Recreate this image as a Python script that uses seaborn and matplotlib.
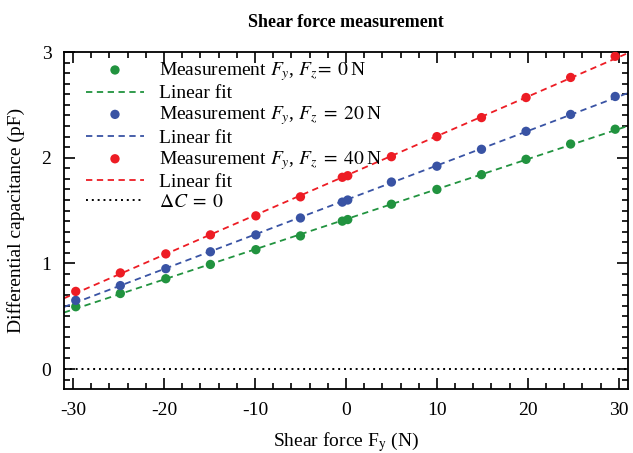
import numpy as np
import pandas as pd
import seaborn as sns
import matplotlib.pyplot as plt
from matplotlib.ticker import MultipleLocator

# Data
force = [-29.7, -24.8, -19.8, -14.9, -9.9, -5.0, -0.4, 0.2, 5.0, 10.0, 14.9, 19.8, 24.7, 29.6]
cap_fz0 = [0.59, 0.715, 0.855, 0.99, 1.13, 1.26, 1.40, 1.415, 1.56, 1.70, 1.84, 1.985, 2.13, 2.27]
cap_fz20 = [0.65, 0.79, 0.95, 1.11, 1.27, 1.43, 1.58, 1.60, 1.77, 1.92, 2.08, 2.25, 2.41, 2.58]
cap_fz40 = [0.735, 0.91, 1.09, 1.27, 1.45, 1.63, 1.815, 1.83, 2.01, 2.20, 2.38, 2.57, 2.76, 2.96]

series = [
    (cap_fz0, '#21933f', r'Measurement $F_y$, $F_z\!=\;0\;$N'),
    (cap_fz20, '#3953a4', r'Measurement $F_y$, $F_z\;=\;20\;$N'),
    (cap_fz40, '#ed1c24', r'Measurement $F_y$, $F_z\;=\;40\;$N'),
]

sns.set_theme(style='ticks')
plt.rcParams['font.family'] = ['Liberation Serif', 'DejaVu Serif']
plt.rcParams['mathtext.fontset'] = 'stix'
plt.rcParams['axes.unicode_minus'] = False
plt.rcParams['axes.edgecolor'] = 'black'
plt.rcParams['xtick.color'] = 'black'
plt.rcParams['ytick.color'] = 'black'
plt.rcParams['text.color'] = 'black'
plt.rcParams['axes.labelcolor'] = 'black'

fig = plt.figure(figsize=(6.33, 4.53), dpi=100)
ax = fig.add_axes([0.101, 0.141, 0.891, 0.744])
ax.set_xlim(-31, 31)
ax.set_ylim(-0.19, 3)

for vals, col, lab in series:
    df = pd.DataFrame({'force': force, 'cap': vals})
    sns.scatterplot(x='force', y='cap', data=df, ax=ax, color=col, s=45,
                    edgecolor='none', label=lab, zorder=3)
    # fit line across the full axis range
    sns.regplot(x='force', y='cap', data=df, ax=ax, ci=None, truncate=False,
                scatter=False, color=col, label='Linear fit',
                line_kws={'linestyle': (0, (3.5, 2.5)), 'linewidth': 1.3})

ax.axhline(0, color='black', linestyle=(0, (1, 2)), linewidth=1.4, label=r'$\Delta C\;=\;0$')

ax.set_xlim(-31, 31)
ax.set_ylim(-0.19, 3)
ax.xaxis.set_major_locator(MultipleLocator(10))
ax.xaxis.set_minor_locator(MultipleLocator(2))
ax.yaxis.set_major_locator(MultipleLocator(1))
ax.yaxis.set_minor_locator(MultipleLocator(0.1))
ax.tick_params(which='both', direction='in', top=True, right=True, width=1.2, labelsize=14, pad=9)
ax.tick_params(which='major', length=8)
ax.tick_params(which='minor', length=4)
for sp in ax.spines.values():
    sp.set_linewidth(1.3)

ax.set_title('Shear force measurement', fontsize=13, fontweight='bold', pad=18)
ax.set_xlabel(r'Shear force F$_\mathrm{y}$ (N)', fontsize=14, labelpad=8)
ax.set_ylabel('Differential capacitance (pF)', fontsize=14, labelpad=12)

ax.legend(loc='upper left', bbox_to_anchor=(0.025, 1.0), frameon=False, fontsize=14,
          handlelength=3.0, handletextpad=0.75, labelspacing=0.1, borderaxespad=0.0)

plt.savefig('out.png', dpi=100)
